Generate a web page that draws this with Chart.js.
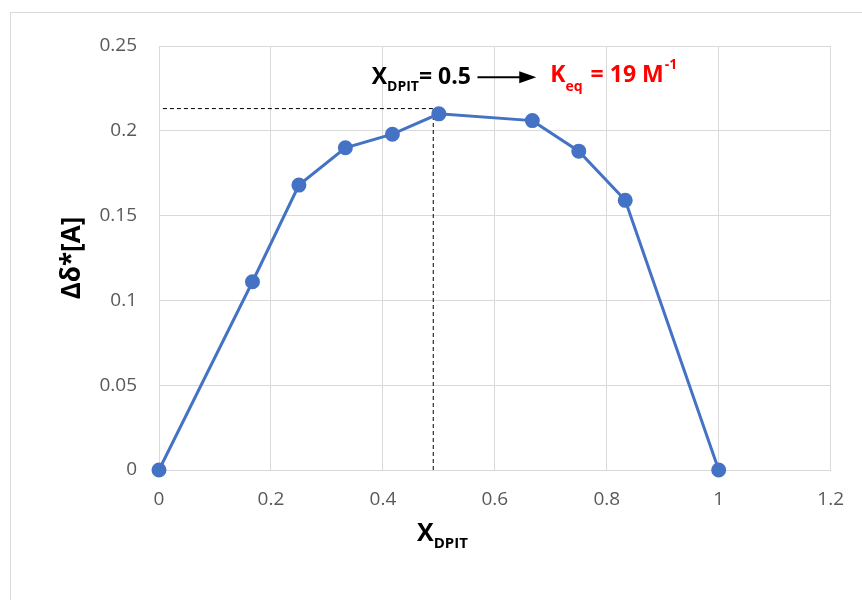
<!DOCTYPE html>
<html>
<head>
<meta charset="utf-8">
<script src="https://cdn.jsdelivr.net/npm/chart.js@4.4.0/dist/chart.umd.min.js"></script>
<style>
  html, body { margin: 0; padding: 0; background: #fff; }
  #wrap { width: 862px; height: 600px; position: relative; }
</style>
</head>
<body>
<div id="wrap"><canvas id="grafico" width="862" height="600"></canvas></div>
<script>
// datos
const fraccionX = [0, 0.167, 0.25, 0.333, 0.417, 0.5, 0.667, 0.75, 0.833, 1];
const deltaA = [0, 0.111, 0.168, 0.19, 0.198, 0.21, 0.206, 0.188, 0.159, 0];
const xTickLabels = ['0', '0.2', '0.4', '0.6', '0.8', '1', '1.2'];
const yTickLabels = ['0', '0.05', '0.1', '0.15', '0.2', '0.25'];
// lineas guia punteadas (maximo)
const guiaX = 0.49;
const guiaY = 0.2131;

const fuente = "'Open Sans', 'Liberation Sans', sans-serif";

const puntos = fraccionX.map((x, i) => ({ x: x, y: deltaA[i] }));

const textos = {
  id: 'textos',
  beforeDraw(chart) {
    const ctx = chart.ctx;
    ctx.save();
    ctx.fillStyle = '#fff';
    ctx.fillRect(0, 0, chart.width, chart.height);
    ctx.strokeStyle = '#d9d9d9';
    ctx.lineWidth = 1;
    ctx.strokeRect(10.5, 12.5, chart.width + 10, chart.height + 10);
    ctx.restore();
  },
  afterDraw(chart) {
    const ctx = chart.ctx;
    const a = chart.chartArea;
    const sx = chart.scales.x;
    const sy = chart.scales.y;
    ctx.save();
    ctx.textBaseline = 'alphabetic';
    ctx.textAlign = 'left';

    // titulo eje X
    ctx.fillStyle = '#000';
    ctx.font = 'bold 25px ' + fuente;
    let px = a.left + 258;
    ctx.fillText('X', px, 541);
    px += ctx.measureText('X').width;
    ctx.font = 'bold 15px ' + fuente;
    ctx.fillText('DPIT', px, 548);

    // titulo eje Y
    ctx.save();
    ctx.translate(80, (a.top + a.bottom) / 2);
    ctx.rotate(-Math.PI / 2);
    ctx.textAlign = 'center';
    ctx.font = 'bold 26px ' + fuente;
    ctx.fillText('Δδ*[A]', 0, 0);
    ctx.restore();

    // anotacion X_DPIT = 0.5 -> Keq
    const base = sy.getPixelForValue(0.2275);
    px = sx.getPixelForValue(0.38);
    ctx.font = 'bold 23px ' + fuente;
    ctx.fillText('X', px, base);
    px += ctx.measureText('X').width;
    ctx.font = 'bold 14px ' + fuente;
    ctx.fillText('DPIT', px, base + 7);
    px += ctx.measureText('DPIT').width;
    ctx.font = 'bold 23px ' + fuente;
    ctx.fillText('= 0.5', px, base);

    // flecha
    const ay = sy.getPixelForValue(0.2316);
    const ax1 = sx.getPixelForValue(0.569);
    const ax2 = sx.getPixelForValue(0.674);
    ctx.strokeStyle = '#000';
    ctx.lineWidth = 2;
    ctx.beginPath();
    ctx.moveTo(ax1, ay);
    ctx.lineTo(ax2 - 14, ay);
    ctx.stroke();
    ctx.fillStyle = '#000';
    ctx.beginPath();
    ctx.moveTo(ax2, ay);
    ctx.lineTo(ax2 - 17, ay - 6);
    ctx.lineTo(ax2 - 17, ay + 6);
    ctx.closePath();
    ctx.fill();

    // Keq en rojo
    ctx.fillStyle = '#ff0000';
    px = sx.getPixelForValue(0.699);
    ctx.font = 'bold 23px ' + fuente;
    ctx.fillText('K', px, base - 2);
    px += ctx.measureText('K').width;
    ctx.font = 'bold 14px ' + fuente;
    ctx.fillText('eq', px, base + 7);
    px += ctx.measureText('eq').width + 2;
    ctx.font = 'bold 23px ' + fuente;
    ctx.fillText(' = 19 M', px, base - 2);
    px += ctx.measureText(' = 19 M').width + 1;
    ctx.font = 'bold 14px ' + fuente;
    ctx.fillText('-1', px, base - 15);
    ctx.restore();
  }
};

new Chart(document.getElementById('grafico'), {
  type: 'scatter',
  data: {
    datasets: [
      {
        data: puntos,
        showLine: true,
        clip: false,
        borderColor: '#4472C4',
        backgroundColor: '#4472C4',
        borderWidth: 3,
        pointRadius: 6,
        pointHoverRadius: 6,
        order: 1
      },
      {
        data: [{ x: guiaX, y: 0 }, { x: guiaX, y: guiaY }],
        showLine: true,
        borderColor: '#000',
        borderWidth: 1,
        borderDash: [4, 3],
        pointRadius: 0,
        order: 2
      },
      {
        data: [{ x: 0.007, y: guiaY }, { x: guiaX, y: guiaY }],
        showLine: true,
        borderColor: '#000',
        borderWidth: 1,
        borderDash: [4, 3],
        pointRadius: 0,
        order: 2
      }
    ]
  },
  options: {
    responsive: false,
    animation: false,
    devicePixelRatio: 1,
    layout: { padding: { top: 46, right: 28, left: 0, bottom: 0 } },
    plugins: {
      legend: { display: false },
      tooltip: { enabled: false }
    },
    scales: {
      x: {
        type: 'linear',
        min: 0,
        max: 1.2,
        ticks: {
          stepSize: 0.2,
          padding: 18,
          maxRotation: 0,
          color: '#595959',
          font: { family: fuente, size: 19 },
          callback: (v, i) => xTickLabels[i]
        },
        grid: { color: '#d9d9d9', drawTicks: false },
        border: { color: '#d9d9d9' },
        afterFit: (s) => { s.height = 130; }
      },
      y: {
        min: 0,
        max: 0.25,
        ticks: {
          stepSize: 0.05,
          padding: 22,
          color: '#595959',
          font: { family: fuente, size: 19 },
          callback: (v, i) => yTickLabels[i]
        },
        grid: { color: '#d9d9d9', drawTicks: false },
        border: { color: '#d9d9d9' },
        afterFit: (s) => { s.width = 159; }
      }
    }
  },
  plugins: [textos]
});
</script>
</body>
</html>
